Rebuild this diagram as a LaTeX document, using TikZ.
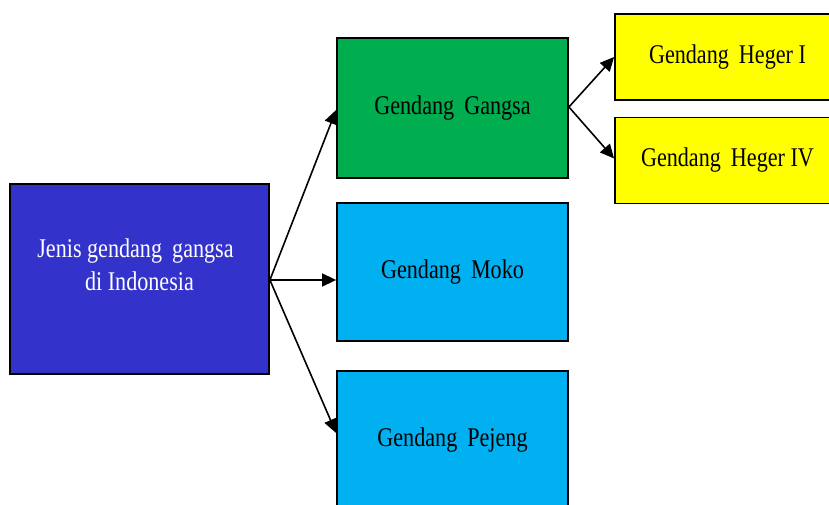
\documentclass[tikz,border=0pt]{standalone}
\usepackage{fontspec}
\setmainfont[FakeStretch=0.82]{Liberation Serif}
\usetikzlibrary{arrows.meta}
\definecolor{jenisblue}{HTML}{3333CC}
\definecolor{gangsagreen}{HTML}{00AD4F}
\definecolor{mokocyan}{HTML}{00B0F0}
\definecolor{hegeryellow}{HTML}{FFFF00}
\begin{document}
\begin{tikzpicture}[x=1pt, y=-1pt,
		box/.style = {draw = black, line width = 1.8pt, inner sep = 0pt, font = \fontsize{27}{33}\selectfont},
		link/.style = {-{Triangle[length = 14pt, width = 13pt]}, line width = 1.6pt}]
		\useasboundingbox (0,0) rectangle (829,505);
		\clip (0,0) rectangle (829,505);
		\node[box, fill = jenisblue, minimum width = 259pt, minimum height = 190pt] (Jenis) at (139.5,279) {};
		\node[font = \fontsize{27}{33}\selectfont, text = white, align = center] (JenisText) at ([yshift = 14.5pt]Jenis.center) {Jenis gendang\, gangsa\hspace*{8pt}\\ di Indonesia};
		\node[box, fill = gangsagreen, minimum width = 231pt, minimum height = 140pt] (Gangsa) at (452.5,108) {Gendang\, Gangsa};
		\node[box, fill = mokocyan, minimum width = 231pt, minimum height = 138pt] (Moko) at (452.5,272) {Gendang\, Moko};
		\node[box, fill = mokocyan, minimum width = 231pt, minimum height = 138pt] (Pejeng) at (452.5,440) {Gendang\, Pejeng};
		\node[box, fill = hegeryellow, minimum width = 225pt, minimum height = 86pt] (HegerI) at (727.5,57) {Gendang\, Heger I};
		\node[box, fill = hegeryellow, minimum width = 225pt, minimum height = 86pt] (HegerIV) at (727.5,160.5) {Gendang\, Heger IV};
		\draw[link] ([yshift = -1pt]Jenis.east) -- ([yshift = -2pt]Gangsa.west);
		\draw[link] ([yshift = -1pt]Jenis.east) -- ([yshift = -8pt]Moko.west);
		\draw[link] ([yshift = -1pt]Jenis.east) -- ([yshift = 7pt]Pejeng.west);
		\draw[link] ([yshift = 1pt]Gangsa.east) -- (HegerI.west);
		\draw[link] ([yshift = 1pt]Gangsa.east) -- ([yshift = 2pt]HegerIV.west);
	\end{tikzpicture}
\end{document}
